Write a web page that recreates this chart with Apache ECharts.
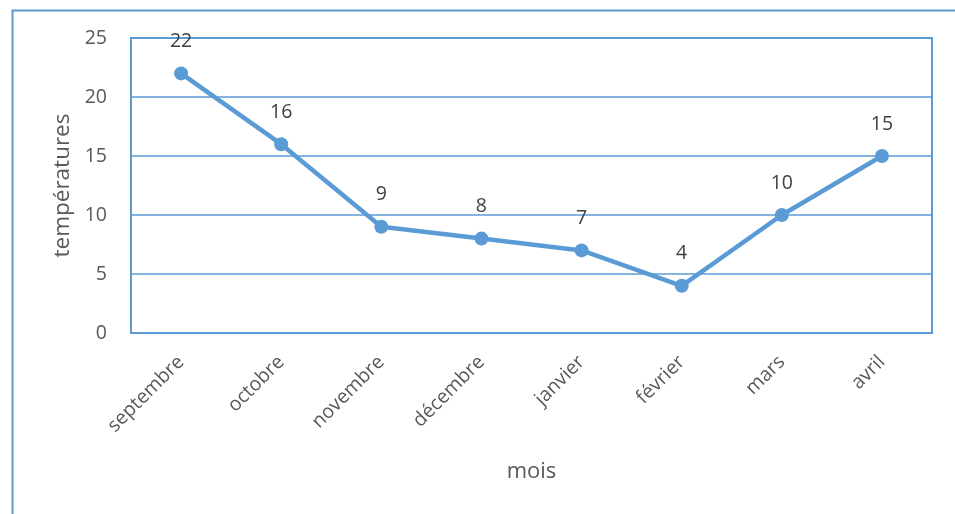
<!DOCTYPE html>
<html><head><meta charset="utf-8">
<script src="https://cdn.jsdelivr.net/npm/echarts@6/dist/echarts.min.js"></script>
<style>html,body{margin:0;padding:0;background:#fff}#c{width:955px;height:514px}</style>
</head><body><div id="c"></div>
<script>
var categories = ['septembre','octobre','novembre','décembre','janvier','février','mars','avril'];
var temperatures = [22, 16, 9, 8, 7, 4, 10, 15];
var yTicks = [0, 5, 10, 15, 20, 25];

var blue = '#5B9BD5';
var font = '"Open Sans", "Liberation Sans", sans-serif';
var chart = echarts.init(document.getElementById('c'));
chart.setOption({
  backgroundColor: '#fff',
  animation: false,
  graphic: [{
    type: 'rect', left: 10, top: 8, shape: {width: 1000, height: 1000},
    style: {fill: 'none', stroke: blue, lineWidth: 2}, silent: true
  }],
  grid: {left: 131, right: 23, top: 38, bottom: 181, show: true, borderColor: blue, borderWidth: 2},
  xAxis: {
    type: 'category', data: categories, boundaryGap: true,
    name: 'mois', nameLocation: 'middle', nameGap: 128,
    nameTextStyle: {fontFamily: font, fontSize: 22, color: '#595959'},
    axisLine: {lineStyle: {color: blue, width: 2}},
    axisTick: {show: false},
    axisLabel: {rotate: 45, fontFamily: font, fontSize: 19.5, color: '#595959', margin: 26, interval: 0}
  },
  yAxis: {
    type: 'value', min: yTicks[0], max: yTicks[yTicks.length-1], interval: 5,
    name: 'températures', nameLocation: 'middle', nameGap: 56,
    nameTextStyle: {fontFamily: font, fontSize: 22.5, color: '#595959'},
    axisLine: {show: true, lineStyle: {color: blue, width: 2}},
    axisTick: {show: false},
    axisLabel: {fontFamily: font, fontSize: 19.5, color: '#595959', margin: 24},
    splitLine: {lineStyle: {color: blue, width: 1.5}}
  },
  series: [{
    type: 'line', data: temperatures,
    lineStyle: {color: blue, width: 4.5},
    itemStyle: {color: blue},
    symbol: 'circle', symbolSize: 14,
    label: {show: true, position: 'top', distance: 15, fontFamily: font, fontSize: 19.5, color: '#404040'}
  }]
});
</script></body></html>
